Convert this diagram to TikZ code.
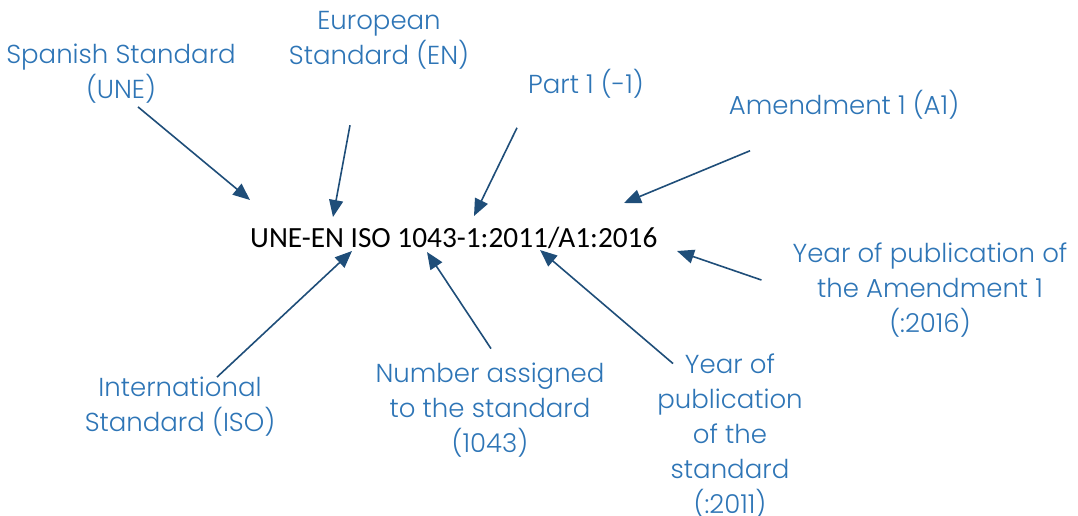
\documentclass[tikz,border=0pt]{standalone}
\usepackage{fontspec}
\usepackage{xcolor}
\usepackage{tikz}
\usetikzlibrary{arrows.meta,positioning}
\newfontfamily\labelfont{Poppins}[UprightFont=* Light]
\newfontfamily\codefont{Carlito}
\definecolor{labelblue}{RGB}{46,117,182}
\definecolor{arrowblue}{RGB}{31,78,121}

\begin{document}
\begin{tikzpicture}[
    x=1pt, y=-1pt,
    part/.style={align=center, inner sep=0pt, text=labelblue, font=\labelfont\fontsize{26}{35}\selectfont},
    arrow/.style={-{Triangle[length=17pt,width=14pt]}, draw=arrowblue, fill=arrowblue, line width=1.6pt}
]
    \useasboundingbox (0,0) rectangle (1078,515);

    % the code in the middle
    \node[inner sep=0pt, text height=20pt, text depth=6pt, anchor=base west,
          font=\codefont\fontsize{29.3}{35}\selectfont] (code) at (250,247) {UNE-EN ISO 1043-1:2011/A1:2016};

    % labels round it
    \node[part] (une) at (121,74) {Spanish Standard\\(UNE)};
    \node[part] (en) at (379,40) {European\\Standard (EN)};
    \node[part] (partone) at (586,84) {Part 1 (-1)};
    \node[part] (amend) at (844,105) {Amendment 1 (A1)};
    \node[part] (yearamend) at (930,290) {Year of publication of\\the Amendment 1\\(:2016)};
    \node[part] (yearstd) at (730,436) {Year of\\publication\\of the\\standard\\(:2011)};
    \node[part] (number) at (490,410) {Number assigned\\to the standard\\(1043)};
    \node[part] (iso) at (180,407) {International\\Standard (ISO)};

    % arrow tips at the code
    \coordinate (tip-une) at (250,200);
    \coordinate (tip-en) at (333,217);
    \coordinate (tip-part) at (474,216);
    \coordinate (tip-amend) at (624,203);
    \coordinate (tip-yearamend) at (677,251);
    \coordinate (tip-yearstd) at (540,250);
    \coordinate (tip-number) at (427,252);
    \coordinate (tip-iso) at (352,251);

    \draw[arrow] ([xshift=17pt,yshift=-3pt]une.south) -- (tip-une);
    \draw[arrow] ([xshift=-29pt,yshift=-56pt]en.south) -- (tip-en);
    \draw[arrow] ([xshift=-69pt,yshift=-29pt]partone.south) -- (tip-part);
    \draw[arrow] ([xshift=-94pt,yshift=-31pt]amend.south) -- (tip-amend);
    \draw[arrow] ([xshift=-31pt,yshift=10pt]yearamend.west) -- (tip-yearamend);
    \draw[arrow] ([xshift=-57pt,yshift=-10pt]yearstd.north) -- (tip-yearstd);
    \draw[arrow] ([xshift=1pt,yshift=14pt]number.north) -- (tip-number);
    \draw[arrow] ([xshift=37pt]iso.north) -- (tip-iso);
\end{tikzpicture}
\end{document}
